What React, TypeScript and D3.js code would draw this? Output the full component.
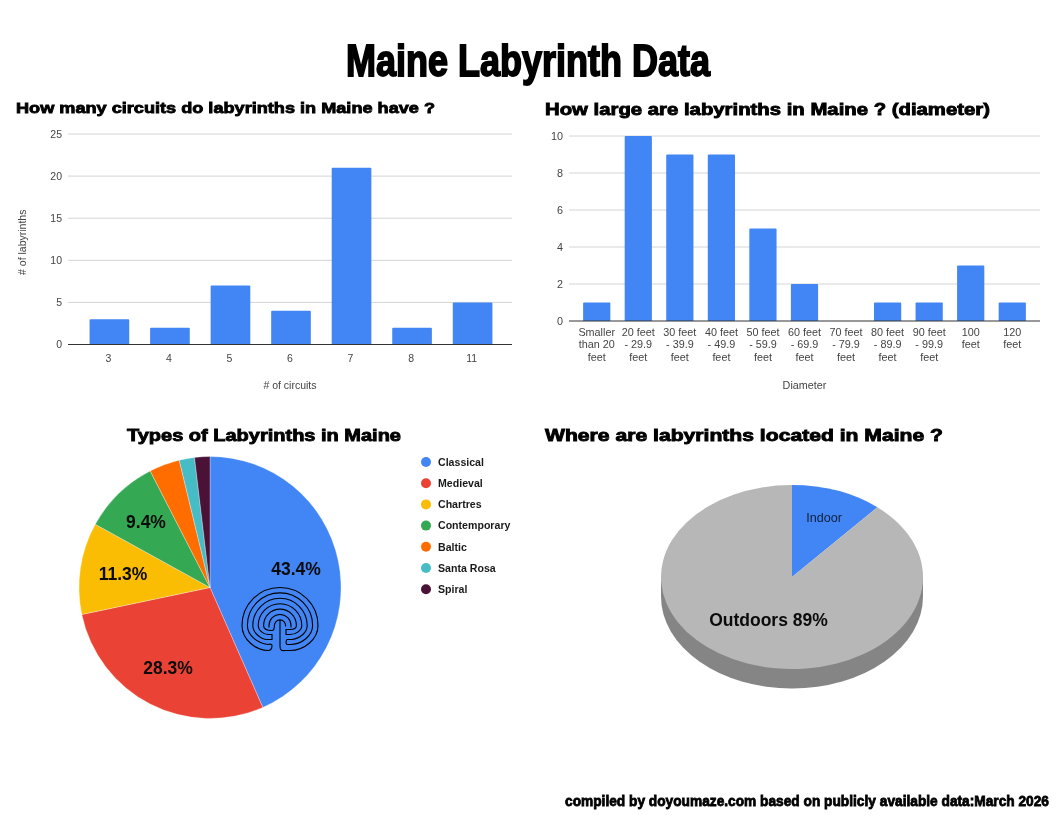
import React from "react";
import * as d3 from "d3";

const circuitCategories = ["3", "4", "5", "6", "7", "8", "11"];
const circuitCounts = [3, 2, 7, 4, 21, 2, 5];
const circuitTicks = [0, 5, 10, 15, 20, 25];

const diameterCategories = [
  ["Smaller", "than 20", "feet"],
  ["20 feet", "- 29.9", "feet"],
  ["30 feet", "- 39.9", "feet"],
  ["40 feet", "- 49.9", "feet"],
  ["50 feet", "- 59.9", "feet"],
  ["60 feet", "- 69.9", "feet"],
  ["70 feet", "- 79.9", "feet"],
  ["80 feet", "- 89.9", "feet"],
  ["90 feet", "- 99.9", "feet"],
  ["100", "feet"],
  ["120", "feet"],
];
const diameterCounts = [1, 10, 9, 9, 5, 2, 0, 1, 1, 3, 1];
const diameterTicks = [0, 2, 4, 6, 8, 10];

const typeNames = ["Classical", "Medieval", "Chartres", "Contemporary", "Baltic", "Santa Rosa", "Spiral"];
const typeCounts = [23, 15, 6, 5, 2, 1, 1];
const typeColors = ["#4285f4", "#ea4335", "#fbbc04", "#34a853", "#ff6d01", "#46bdc6", "#4a1237"];
const typeLabels = ["43.4%", "28.3%", "11.3%", "9.4%", "", "", ""];

const locationNames = ["Indoor", "Outdoors"];
const locationCounts = [11.3, 88.7];
const locationColors = ["#4285f4", "#b7b7b7"];

const labyrinthRadii = [38, 32.6, 27.2, 21.8, 16.4, 11, 5.6];

const AXIS = "'Liberation Sans', Arial, sans-serif";

function BarChart({ cats, vals, ticks, yMax, x0, x1, top, bottom, shift, fontSize, xTitle, xTitleY, yTitle, tickYOffset }: any) {
  const x = d3.scaleBand<number>().domain(d3.range(cats.length)).range([x0 + shift, x1 + shift]).paddingInner(0.345).paddingOuter(0.34);
  const y = d3.scaleLinear().domain([0, yMax]).range([bottom, top]);
  return (
    <g fontFamily={AXIS} fontSize={fontSize} fill="#444">
      {ticks.filter((t: number) => t > 0).map((t: number) => (
        <line key={t} x1={x0} x2={x1} y1={y(t)} y2={y(t)} stroke="#d4d4d4" strokeWidth={1} />
      ))}
      {ticks.map((t: number) => (
        <text key={t} x={x0 - 6} y={y(t) + 3.5} textAnchor="end">{t}</text>
      ))}
      {vals.map((v: number, i: number) => v > 0 && (
        <path key={i} d={`M${x(i)},${y(0)}V${y(v) + 1}q0,-1 1,-1H${x(i)! + x.bandwidth() - 1}q1,0 1,1V${y(0)}Z`} fill="#4285f4" />
      ))}
      <line x1={x0} x2={x1} y1={y(0)} y2={y(0)} stroke="#333" strokeWidth={1} />
      {cats.map((c: any, i: number) => {
        const lines = Array.isArray(c) ? c : [c];
        const cx = x(i)! + x.bandwidth() / 2 - shift;
        return (
          <text key={i} x={cx} textAnchor="middle">
            {lines.map((l: string, j: number) => (
              <tspan key={j} x={cx} y={y(0) + tickYOffset + j * 12.4}>{l}</tspan>
            ))}
          </text>
        );
      })}
      <text x={(x0 + x1) / 2} y={xTitleY} textAnchor="middle">{xTitle}</text>
      {yTitle && (
        <text transform={`translate(26,${(top + bottom) / 2 + 3}) rotate(-90)`} textAnchor="middle">{yTitle}</text>
      )}
    </g>
  );
}

function TypesPie() {
  const cx = 210, cy = 587.5, r = 131;
  const pie = d3.pie<number>().value((d) => d).sort(null);
  const arc = d3.arc<d3.PieArcDatum<number>>().innerRadius(0).outerRadius(r);
  const slices = pie(typeCounts);
  const labelPos = [[296, 569], [168, 668], [123, 574], [146, 522]];
  return (
    <g>
      <g transform={`translate(${cx},${cy})`}>
        {slices.map((s, i) => <path key={i} d={arc(s)!} fill={typeColors[i]} stroke="#fff" strokeWidth={0.3} />)}
      </g>
      {typeLabels.map((l, i) => l && (
        <text key={i} x={labelPos[i][0]} y={labelPos[i][1] + 6} textAnchor="middle" fontFamily={AXIS} fontSize={17.5} fontWeight={700} fill="#0b0b0b">{l}</text>
      ))}
      <Labyrinth cx={280} cy={625.5} />
      <g fontFamily={AXIS} fontSize={10.6} fontWeight={700} fill="#1a1a1a">
        {typeNames.map((n, i) => (
          <g key={n} transform={`translate(0,${462 + i * 21.2})`}>
            <circle cx={426} cy={0} r={5} fill={typeColors[i]} />
            <text x={438} y={3.7}>{n}</text>
          </g>
        ))}
      </g>
    </g>
  );
}

function Labyrinth({ cx, cy }: { cx: number; cy: number }) {
  const bottom = cy + 25;
  const left = labyrinthRadii.map((r) => `M${cx},${cy - r}A${r},${r} 0 0 0 ${cx - r},${cy}`);
  const right = labyrinthRadii.map((r) => `M${cx},${cy - r}A${r},${r} 0 0 1 ${cx + r},${cy}`);
  const outer = labyrinthRadii[0];
  const tails = [
    `M${cx - outer},${cy}C${cx - outer},${cy + 14} ${cx - 24},${bottom} ${cx - 12},${bottom}Q${cx - 8},${bottom} ${cx - 8},${bottom - 5}Q${cx - 8},${bottom - 7} ${cx - 12},${bottom - 6}C${cx - 22},${bottom - 7} ${cx - 32.6},${cy + 10} ${cx - 32.6},${cy}`,
    `M${cx - 27.2},${cy}C${cx - 27.2},${cy + 8} ${cx - 18},${cy + 14} ${cx - 13},${cy + 14}H${cx - 8}V${cy + 9}H${cx - 12}C${cx - 16},${cy + 9} ${cx - 21.8},${cy + 5} ${cx - 21.8},${cy}`,
    `M${cx - 16.4},${cy}C${cx - 16.4},${cy + 4} ${cx - 12},${cy + 5} ${cx - 8},${cy + 5}C${cx - 6},${cy + 5} ${cx - 5.6},${cy + 2} ${cx - 5.6},${cy}`,
    `M${cx - 11},${cy}V${cy + 2}`,
    `M${cx},${cy - 5.6}V${bottom - 4}Q${cx},${bottom + 1} ${cx + 5},${bottom}`,
    `M${cx + outer},${cy}C${cx + outer},${cy + 14} ${cx + 24},${bottom} ${cx + 10},${bottom}H${cx + 5}`,
    `M${cx + 32.6},${cy}C${cx + 32.6},${cy + 10} ${cx + 22},${bottom - 6} ${cx + 10},${bottom - 6}H${cx + 7}Q${cx + 5},${bottom - 8} ${cx + 7},${bottom - 11}H${cx + 12}C${cx + 20},${cy + 13} ${cx + 27.2},${cy + 7} ${cx + 27.2},${cy}`,
    `M${cx + 21.8},${cy}C${cx + 21.8},${cy + 5} ${cx + 16},${cy + 9} ${cx + 10},${cy + 9}H${cx + 6}V${cy + 4}H${cx + 10}C${cx + 13},${cy + 4} ${cx + 16.4},${cy + 3} ${cx + 16.4},${cy}`,
    `M${cx + 11},${cy}V${cy + 2}`,
    `M${cx + 5.6},${cy}V${cy + 1}`,
  ];
  return <path d={[...left, ...right, ...tails].join("")} fill="none" stroke="#000" strokeWidth={1.1} />;
}

function LocationPie() {
  const cx = 792, cy = 577, rx = 131, ry = 92, depth = 19.5;
  const pie = d3.pie<number>().value((d) => d).sort(null);
  const arc = d3.arc<d3.PieArcDatum<number>>().innerRadius(0).outerRadius(rx);
  const slices = pie(locationCounts);
  return (
    <g>
      <path d={`M${cx - rx},${cy}V${cy + depth}A${rx},${ry} 0 0 0 ${cx + rx},${cy + depth}V${cy}Z`} fill="#858585" />
      <g transform={`translate(${cx},${cy}) scale(1,${ry / rx})`}>
        {slices.map((s, i) => <path key={i} d={arc(s)!} fill={locationColors[i]} />)}
      </g>
      <text x={824} y={521.5} textAnchor="middle" fontFamily={AXIS} fontSize={12.6} fill="#10203c">{locationNames[0]}</text>
      <text x={768.5} y={626} textAnchor="middle" fontFamily={AXIS} fontSize={17.5} fontWeight={700} fill="#0b0b0b">{locationNames[1]} 89%</text>
    </g>
  );
}

function Heavy({ x, y, size, len, children, sw = 0.85 }: any) {
  return (
    <text x={x} y={y} fontFamily={AXIS} fontSize={size} fontWeight={700} fill="#000" stroke="#000" strokeWidth={sw}
      textLength={len} lengthAdjust="spacingAndGlyphs">{children}</text>
  );
}

function Condensed({ x, y, size, len, children, sw, sy = 1 }: any) {
  return (
    <text transform={`translate(${x},${y}) scale(1,${sy})`} fontFamily={AXIS} fontSize={size} fontWeight={700} fill="#000" stroke="#000" strokeWidth={sw}
      textLength={len} lengthAdjust="spacingAndGlyphs">{children}</text>
  );
}

export default function App() {
  return (
    <svg width={1056} height={816} style={{ position: "absolute", left: 0, top: 0, background: "#fff", filter: "blur(0.35px)" }}>
      <rect width={1056} height={816} fill="#fff" />
      <Condensed x={346} y={76} size={44} len={364} sw={1.8}>Maine Labyrinth Data</Condensed>
      <Heavy x={16} y={113} size={15.5} len={419}>How many circuits do labyrinths in Maine have ?</Heavy>
      <Heavy x={545} y={115} size={16.5} len={445}>How large are labyrinths in Maine ? (diameter)</Heavy>
      <Heavy x={127} y={441} size={16.5} len={274}>Types of Labyrinths in Maine</Heavy>
      <Heavy x={545} y={441} size={16.5} len={398}>Where are labyrinths located in Maine ?</Heavy>
      <BarChart cats={circuitCategories} vals={circuitCounts} ticks={circuitTicks} yMax={25} x0={68} x1={512} top={134} bottom={344.5} shift={1}
        fontSize={10.5} xTitle="# of circuits" xTitleY={389} yTitle="# of labyrinths" tickYOffset={17} />
      <BarChart cats={diameterCategories} vals={diameterCounts} ticks={diameterTicks} yMax={10} x0={569} x1={1040} top={136} bottom={321} shift={0}
        fontSize={10.8} xTitle="Diameter" xTitleY={389} tickYOffset={15} />
      <TypesPie />
      <LocationPie />
      <Condensed x={565} y={806} size={13.8} len={484} sw={0.75} sy={1.12}>compiled by doyoumaze.com based on publicly available data:March 2026</Condensed>
    </svg>
  );
}
